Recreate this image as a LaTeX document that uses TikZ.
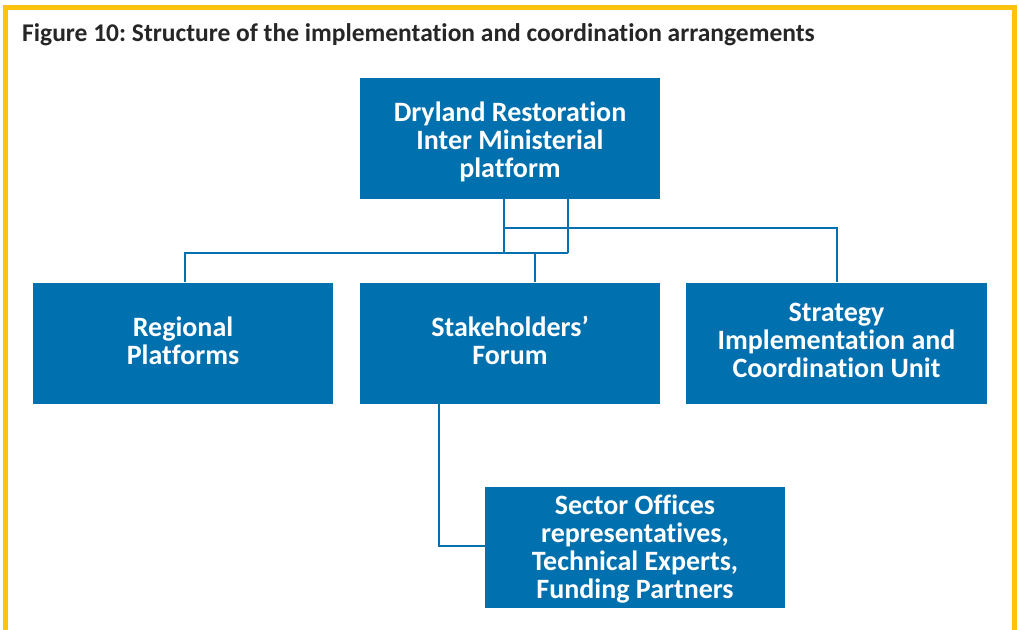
\documentclass[tikz,border=0pt]{standalone}
\usepackage{fontspec}
\setmainfont{Carlito}[Ligatures=NoCommon]
\frenchspacing
\definecolor{boxblue}{RGB}{0,112,174}
\definecolor{frameyellow}{RGB}{255,194,14}
\begin{document}
\begin{tikzpicture}[x=1pt,y=-1pt,
  orgbox/.style={fill=boxblue,draw=none,minimum width=300pt,minimum height=121pt,inner sep=0pt},
  boxtext/.style={inner sep=0pt,text=white,font=\fontsize{28}{28}\selectfont\bfseries,align=center},
  link/.style={draw=boxblue,line width=2.5pt}]
\useasboundingbox (0,0) rectangle (1019,629);
\fill[white] (0,0) rectangle (1019,629);
% frame
\draw[frameyellow,line width=5pt] (5.5,640) -- (5.5,7) -- (1014.5,7) -- (1014.5,640);
\node[anchor=west,inner sep=0pt,font=\fontsize{25.5}{28}\selectfont\bfseries,text=black!85] (title) at (22,35) {Figure 10: Structure of the implementation and coordination arrangements};
% boxes
\node[orgbox] (top) at (510,138.5) {};
\node[orgbox] (left) at (183,343) {};
\node[orgbox] (mid) at (510,343) {};
\node[orgbox,minimum width=301pt] (right) at (836.5,343) {};
\node[orgbox] (sector) at (635,547) {};
% texts
\node[boxtext] (topT) at ([yshift=-3pt]top.center) {Dryland Restoration\\Inter Ministerial\\platform};
\node[boxtext] (leftT) at ([yshift=2.5pt]left.center) {Regional\\Platforms};
\node[boxtext] (midT) at ([yshift=2.5pt]mid.center) {Stakeholders’\\Forum};
\node[boxtext] (rightT) at ([yshift=3pt]right.center) {Strategy\\Implementation and\\Coordination Unit};
\node[boxtext] (sectorT) at ([yshift=-2.5pt]sector.center) {Sector Offices\\representatives,\\Technical Experts,\\Funding Partners};
% connectors
\coordinate (a1) at (504,253);
\coordinate (a2) at (568,253);
\draw[link] (top.south -| a1) -- (a1);
\draw[link] (top.south -| a2) -- (a2);
\draw[link] (504,228) -- (837,228) -- (right.north -| 837,0);
\draw[link] (left.north -| 185,0) -- (185,253) -- (a2);
\draw[link] (535,253) -- (mid.north -| 535,0);
\draw[link] (mid.south -| 439,0) -- (439,546) -- (sector.west |- 0,546);
\end{tikzpicture}
\end{document}
